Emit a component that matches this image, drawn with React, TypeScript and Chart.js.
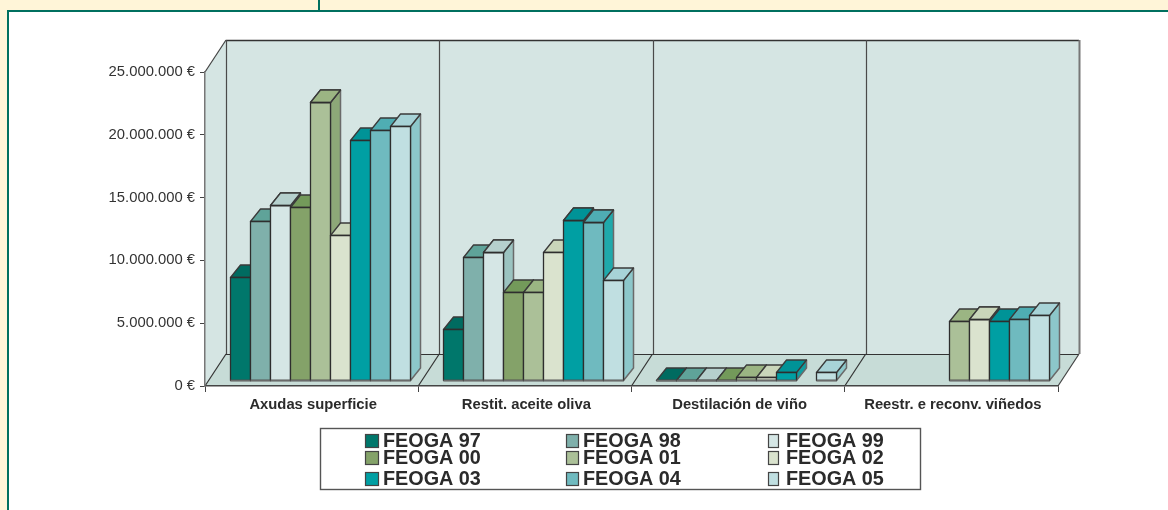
import React, { useEffect, useRef } from "react";
import { Chart, registerables } from "chart.js";

Chart.register(...registerables);

const categories = ["Axudas superficie", "Restit. aceite oliva", "Destilación de viño", "Reestr. e reconv. viñedos"];
const seriesNames = ["FEOGA 97", "FEOGA 98", "FEOGA 99", "FEOGA 00", "FEOGA 01", "FEOGA 02", "FEOGA 03", "FEOGA 04", "FEOGA 05"];
const feoga97 = [8180000, 4100000, 0, null];
const feoga98 = [12660000, 9770000, 0, null];
const feoga99 = [13900000, 10170000, 0, null];
const feoga00 = [13800000, 6980000, 0, null];
const feoga01 = [22100000, 7000000, 200000, 4720000];
const feoga02 = [11550000, 10170000, 200000, 4860000];
const feoga03 = [19100000, 12740000, 650000, 4720000];
const feoga04 = [19900000, 12600000, null, 4860000];
const feoga05 = [20250000, 7940000, 650000, 5150000];
const yTickLabels = ["0 €", "5.000.000 €", "10.000.000 €", "15.000.000 €", "20.000.000 €", "25.000.000 €"];
const frontColors = ["#00776B", "#7FB0AB", "#D5E6E5", "#84A269", "#ABC098", "#DAE3CE", "#009FA3", "#6FBABF", "#C0DFE1"];
const topColors = ["#006B60", "#5FA399", "#B5D0CD", "#739A5A", "#9BB583", "#C9D6BA", "#009397", "#4FADB3", "#A7D3D7"];
const sideColors = ["#005F55", "#5FA399", "#9BC3C0", "#6F8F55", "#8DA878", "#C0CFB0", "#0F9DA0", "#1FA9AB", "#8CC7CA"];

const allSeries = [feoga97, feoga98, feoga99, feoga00, feoga01, feoga02, feoga03, feoga04, feoga05];

const WALL_DX = 21;
const WALL_DY = -32;
const BAR_DX = 8;
const BAR_DY = -6;
const DEPTH_DX = 10;
const DEPTH_DY = -12.5;
const EDGE = "#2e2e2e";
const GREY = "#6a6a6a";

const poly = (ctx: CanvasRenderingContext2D, pts: number[][], fill: string | null, stroke: string | null, lw = 1) => {
  ctx.beginPath();
  pts.forEach((p, i) => (i ? ctx.lineTo(p[0], p[1]) : ctx.moveTo(p[0], p[1])));
  ctx.closePath();
  if (fill) {
    ctx.fillStyle = fill;
    ctx.fill();
  }
  if (stroke) {
    ctx.strokeStyle = stroke;
    ctx.lineWidth = lw;
    ctx.stroke();
  }
};

const line = (ctx: CanvasRenderingContext2D, x1: number, y1: number, x2: number, y2: number, color: string, lw = 1) => {
  ctx.beginPath();
  ctx.moveTo(x1, y1);
  ctx.lineTo(x2, y2);
  ctx.strokeStyle = color;
  ctx.lineWidth = lw;
  ctx.stroke();
};

const wallsPlugin = {
  id: "walls3d",
  beforeDraw(chart: any) {
    const { ctx, chartArea: a } = chart;
    const l = a.left, r = a.right, t = a.top, b = a.bottom;
    ctx.save();
    poly(ctx, [[l + WALL_DX, t + WALL_DY], [r + WALL_DX, t + WALL_DY], [r + WALL_DX, b + WALL_DY], [l + WALL_DX, b + WALL_DY]], "#D5E5E3", null);
    poly(ctx, [[l, t], [l + WALL_DX, t + WALL_DY], [l + WALL_DX, b + WALL_DY], [l, b]], "#D5E5E3", null);
    poly(ctx, [[l, b], [l + WALL_DX, b + WALL_DY], [r + WALL_DX, b + WALL_DY], [r, b]], "#C7DCD7", null);
    line(ctx, l + WALL_DX, t + WALL_DY + 0.5, r + WALL_DX, t + WALL_DY + 0.5, "#333333", 1.5);
    line(ctx, l, t, l + WALL_DX, t + WALL_DY, "#444444", 1.2);
    line(ctx, l + WALL_DX, b + WALL_DY + 0.5, r + WALL_DX, b + WALL_DY + 0.5, "#333333", 1.2);
    const n = categories.length;
    for (let i = 0; i <= n; i++) {
      const x = l + ((r - l) * i) / n;
      const wx = Math.round(x + WALL_DX) + 0.5;
      line(ctx, wx, t + WALL_DY, wx, b + WALL_DY, i === n ? "#777777" : "#4a4a4a", i === n ? 2 : 1.2);
      if (i < n) line(ctx, x, b, x + WALL_DX, b + WALL_DY, "#333333", 1.2);
    }
    line(ctx, r, b, r + WALL_DX, b + WALL_DY, "#444444", 1.2);
    ctx.restore();
  },
};

const bars3dPlugin = {
  id: "bars3d",
  beforeDatasetsDraw(chart: any) {
    const { ctx } = chart;
    ctx.save();
    ctx.lineJoin = "round";
    const n = chart.data.datasets.length;
    const geom = (ds: number, c: number) => {
      const el = chart.getDatasetMeta(ds).data[c];
      const v = chart.data.datasets[ds].data[c];
      if (!el || v === null || v === undefined) return null;
      const x0 = Math.round(el.x - el.width / 2 + BAR_DX) + 0.5;
      const x1 = Math.round(el.x + el.width / 2 + BAR_DX) + 0.5;
      const y0 = Math.round(el.y + BAR_DY) + 0.5;
      const yb = Math.round(el.base + BAR_DY) + 0.5;
      return { x0, x1, y0, yb, v };
    };
    const topFace = (g: any, ds: number) =>
      poly(ctx, [[g.x0, g.y0], [g.x0 + DEPTH_DX, g.y0 + DEPTH_DY], [g.x1 + DEPTH_DX, g.y0 + DEPTH_DY], [g.x1, g.y0]], topColors[ds], "#3a3a3a", 1.3);
    for (let c = 0; c < categories.length; c++) {
      for (let ds = 0; ds < n; ds++) {
        const g = geom(ds, c);
        if (!g) continue;
        poly(ctx, [[g.x1, g.yb], [g.x1 + DEPTH_DX, g.yb + DEPTH_DY], [g.x1 + DEPTH_DX, g.y0 + DEPTH_DY], [g.x1, g.y0]], sideColors[ds], GREY, 1.5);
        topFace(g, ds);
        poly(ctx, [[g.x0, g.y0], [g.x1, g.y0], [g.x1, g.yb], [g.x0, g.yb]], frontColors[ds], EDGE, 1.3);
        line(ctx, g.x0, g.yb, g.x1, g.yb, GREY, 1.6);
      }
      for (let ds = 0; ds < n - 1; ds++) {
        const g = geom(ds, c);
        const next = geom(ds + 1, c);
        if (g && next && g.v > next.v && g.v > 0) {
          topFace(g, ds);
          line(ctx, g.x0, g.y0, g.x1, g.y0, EDGE, 1.3);
        }
      }
    }
    ctx.restore();
    return false;
  },
};

const legendPlugin = {
  id: "legendBox",
  afterDraw(chart: any) {
    const { ctx } = chart;
    const colText = [383, 583, 786];
    const colBox = [365, 566, 768];
    const boxW = [13, 12, 10];
    const rowY = [441, 458, 479];
    ctx.save();
    ctx.fillStyle = "#ffffff";
    ctx.fillRect(321, 428, 599, 62);
    ctx.strokeStyle = "#555555";
    ctx.lineWidth = 1.4;
    ctx.strokeRect(320.5, 428.5, 600, 61);
    ctx.font = "bold 19.8px 'Liberation Sans', Arial, sans-serif";
    ctx.textBaseline = "middle";
    ctx.textAlign = "left";
    chart.data.datasets.forEach((d: any, i: number) => {
      const col = i % 3;
      const row = Math.floor(i / 3);
      const y = rowY[row];
      ctx.fillStyle = d.backgroundColor;
      ctx.fillRect(colBox[col] + 0.5, y - 6.5, boxW[col], 13);
      ctx.strokeStyle = "#444444";
      ctx.lineWidth = 1.2;
      ctx.strokeRect(colBox[col] + 0.5, y - 6.5, boxW[col], 13);
      ctx.fillStyle = "#2b2b2b";
      ctx.fillText(d.label, colText[col], y + 0.5);
    });
    ctx.restore();
  },
};

export default function App() {
  const ref = useRef<HTMLCanvasElement | null>(null);
  useEffect(() => {
    if (!ref.current) return;
    const chart = new Chart(ref.current, {
      type: "bar",
      data: {
        labels: categories,
        datasets: allSeries.map((data, i) => ({
          label: seriesNames[i],
          data,
          backgroundColor: frontColors[i],
          categoryPercentage: 0.844,
          barPercentage: 1,
        })),
      },
      options: {
        responsive: false,
        animation: false,
        layout: { padding: { left: 0, right: 110, top: 72, bottom: 0 } },
        plugins: { legend: { display: false }, tooltip: { enabled: false } },
        scales: {
          x: {
            grid: { drawOnChartArea: false, drawTicks: true, tickLength: 6, color: "#444444", lineWidth: 1 },
            border: { display: true, color: "#444444", width: 1.5 },
            ticks: {
              color: "#2b2b2b",
              padding: 4,
              labelOffset: 1.5,
              maxRotation: 0,
              minRotation: 0,
              autoSkip: false,
              font: { family: "'Liberation Sans', Arial, sans-serif", weight: "bold", size: 14.8 },
            },
            afterFit: (s: any) => {
              s.height = 124;
            },
          },
          y: {
            min: 0,
            max: 25000000,
            grid: { drawOnChartArea: false, drawTicks: true, tickLength: 5, color: "#444444", lineWidth: 1 },
            border: { display: true, color: "#777777", width: 1.5 },
            ticks: {
              stepSize: 5000000,
              color: "#333333",
              padding: 5,
              font: { family: "'Liberation Sans', Arial, sans-serif", size: 14.8 },
              callback: (_v: any, i: number) => yTickLabels[i],
            },
            afterFit: (s: any) => {
              s.width = 205;
            },
          },
        },
      },
      plugins: [wallsPlugin, bars3dPlugin, legendPlugin],
    } as any);
    return () => chart.destroy();
  }, []);
  return (
    <div style={{ position: "absolute", left: 0, top: 0, width: 1168, height: 510, overflow: "hidden", background: "#FFF5D8" }}>
      <div style={{ position: "absolute", left: 7, top: 10, width: 1170, height: 510, background: "#fff", border: "2px solid #00705F", boxSizing: "border-box" }} />
      <div style={{ position: "absolute", left: 318, top: 0, width: 2, height: 11, background: "#00705F" }} />
      <canvas ref={ref} width={1168} height={510} style={{ position: "absolute", left: 0, top: 0, display: "block" }} />
    </div>
  );
}
